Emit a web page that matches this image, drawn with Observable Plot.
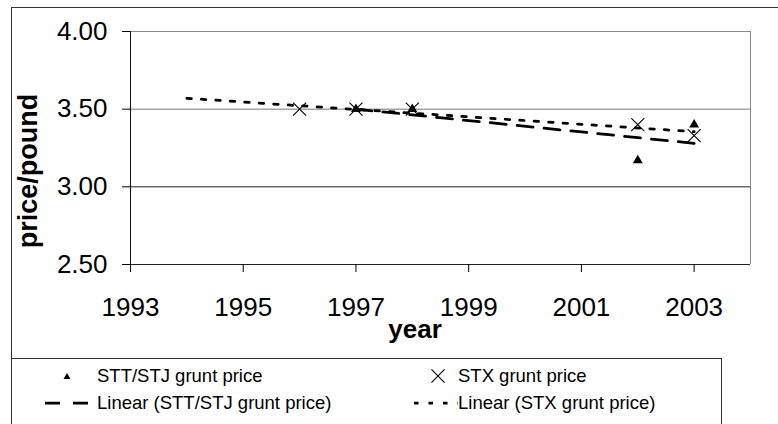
<!DOCTYPE html>
<html>
<head>
<meta charset="utf-8">
<script src="https://cdn.jsdelivr.net/npm/d3@7"></script>
<script src="https://cdn.jsdelivr.net/npm/@observablehq/plot@0.6"></script>
<style>
  html, body { margin: 0; padding: 0; background: #fff; }
  #chart { position: relative; width: 778px; height: 424px; overflow: hidden; }
</style>
</head>
<body>
<div id="chart"></div>
<script>
// ---- data ----
const sttYears = [1997, 1998, 2002, 2003];
const sttPrice = [3.50, 3.50, 3.17, 3.40];
const stxYears = [1996, 1997, 1998, 2002, 2003];
const stxPrice = [3.50, 3.50, 3.50, 3.40, 3.33];
// trendline end points (as drawn in the reference)
const sttTrendYears = [1997, 2003];
const sttTrendPrice = [3.50, 3.28];
const stxTrendYears = [1994, 2003];
const stxTrendPrice = [3.57, 3.355];
// axes
const xTicks = [1993, 1995, 1997, 1999, 2001, 2003];
const yTicks = [2.50, 3.00, 3.50, 4.00];
const xDomain = [1993, 2004];
const yDomain = [2.5, 4.0];
const xTitle = "year";
const yTitle = "price/pound";
const legendLabels = [
  "STT/STJ grunt price",
  "STX grunt price",
  "Linear (STT/STJ grunt price)",
  "Linear (STX grunt price)"
];

const stt = sttYears.map((x, i) => ({x, y: sttPrice[i]}));
const stx = stxYears.map((x, i) => ({x, y: stxPrice[i]}));
const sttTrend = sttTrendYears.map((x, i) => ({x, y: sttTrendPrice[i]}));
const stxTrend = stxTrendYears.map((x, i) => ({x, y: stxTrendPrice[i]}));

const FONT = "'Liberation Sans', Arial, sans-serif";

const chart = Plot.plot({
  width: 778,
  height: 424,
  marginLeft: 130,
  marginRight: 28,
  marginTop: 31,
  marginBottom: 160,
  x: {domain: xDomain},
  y: {domain: yDomain},
  style: {fontFamily: FONT, fontSize: "26px", background: "white", color: "black", overflow: "hidden"},
  marks: [
    Plot.ruleY([3.5], {stroke: "#777", strokeWidth: 1}),
    Plot.ruleY([3.0], {stroke: "#222", strokeWidth: 1}),
    Plot.ruleY([4.0], {stroke: "#888", strokeWidth: 1}),
    Plot.ruleX([2004], {stroke: "#888", strokeWidth: 1}),
    Plot.ruleY([2.5], {stroke: "#222", strokeWidth: 1}),
    Plot.ruleX([1993], {stroke: "#111", strokeWidth: 1}),
    Plot.axisY({ticks: yTicks, tickFormat: d3.format(".2f"), tickSize: 8, tickPadding: 15, label: null, fontSize: 26}),
    Plot.axisX({ticks: xTicks, tickFormat: d3.format("d"), tickSize: 8, tickPadding: 25, label: null, fontSize: 26}),
    Plot.dot(stt, {x: "x", y: "y", symbol: "triangle", r: 3.7, fill: "black", stroke: "none"}),
    Plot.dot(stx, {x: "x", y: "y", symbol: "times", r: 6, stroke: "black", strokeWidth: 1.1}),
    Plot.line(sttTrend, {x: "x", y: "y", stroke: "black", strokeWidth: 2.75, strokeDasharray: "16,11"}),
    Plot.line(stxTrend, {x: "x", y: "y", stroke: "black", strokeWidth: 2.75, strokeDasharray: "4.5,10"})
  ]
});

document.getElementById("chart").appendChild(chart);

const svg = d3.select(chart);

// outer chart border (extends beyond the visible crop at right/bottom)
svg.append("rect")
  .attr("x", 11.5).attr("y", 7.5).attr("width", 820).attr("height", 500)
  .attr("fill", "none").attr("stroke", "#333").attr("stroke-width", 1);

// axis titles
svg.append("text")
  .attr("transform", "translate(37,171) rotate(-90)")
  .attr("text-anchor", "middle")
  .attr("font-family", FONT).attr("font-weight", "bold").attr("font-size", 27)
  .attr("fill", "black")
  .text(yTitle);

svg.append("text")
  .attr("x", 415).attr("y", 338)
  .attr("text-anchor", "middle")
  .attr("font-family", FONT).attr("font-weight", "bold").attr("font-size", 26)
  .attr("fill", "black")
  .text(xTitle);

// legend box
svg.append("rect")
  .attr("x", 11.5).attr("y", 358.5).attr("width", 710).attr("height", 100)
  .attr("fill", "white").attr("stroke", "#333").attr("stroke-width", 1);

const lg = svg.append("g")
  .attr("font-family", FONT).attr("font-size", 18.5).attr("fill", "black")
  .attr("text-anchor", "start");
const rowY = [376, 403];
const textX = [97, 458];

// row 1 markers
lg.append("path")
  .attr("transform", `translate(67,${rowY[0] + 1})`)
  .attr("d", d3.symbol(d3.symbolTriangle, 2.6 * 2.6 * Math.PI)())
  .attr("fill", "black");
lg.append("path")
  .attr("transform", `translate(438,${rowY[0]})`)
  .attr("d", d3.symbol(d3.symbolTimes, 6 * 6 * Math.PI)())
  .attr("fill", "none").attr("stroke", "black").attr("stroke-width", 1.1);
// row 2 markers
lg.append("line")
  .attr("x1", 45).attr("x2", 93).attr("y1", rowY[1]).attr("y2", rowY[1])
  .attr("stroke", "black").attr("stroke-width", 2.75).attr("stroke-dasharray", "15,13");
lg.append("line")
  .attr("x1", 414).attr("x2", 458).attr("y1", rowY[1]).attr("y2", rowY[1])
  .attr("stroke", "black").attr("stroke-width", 2.75).attr("stroke-dasharray", "4.5,10");

legendLabels.forEach((t, i) => {
  const row = Math.floor(i / 2), col = i % 2;
  lg.append("text")
    .attr("x", textX[col]).attr("y", rowY[row])
    .attr("dy", "0.35em")
    .attr("text-anchor", "start")
    .text(t);
});
</script>
</body>
</html>
